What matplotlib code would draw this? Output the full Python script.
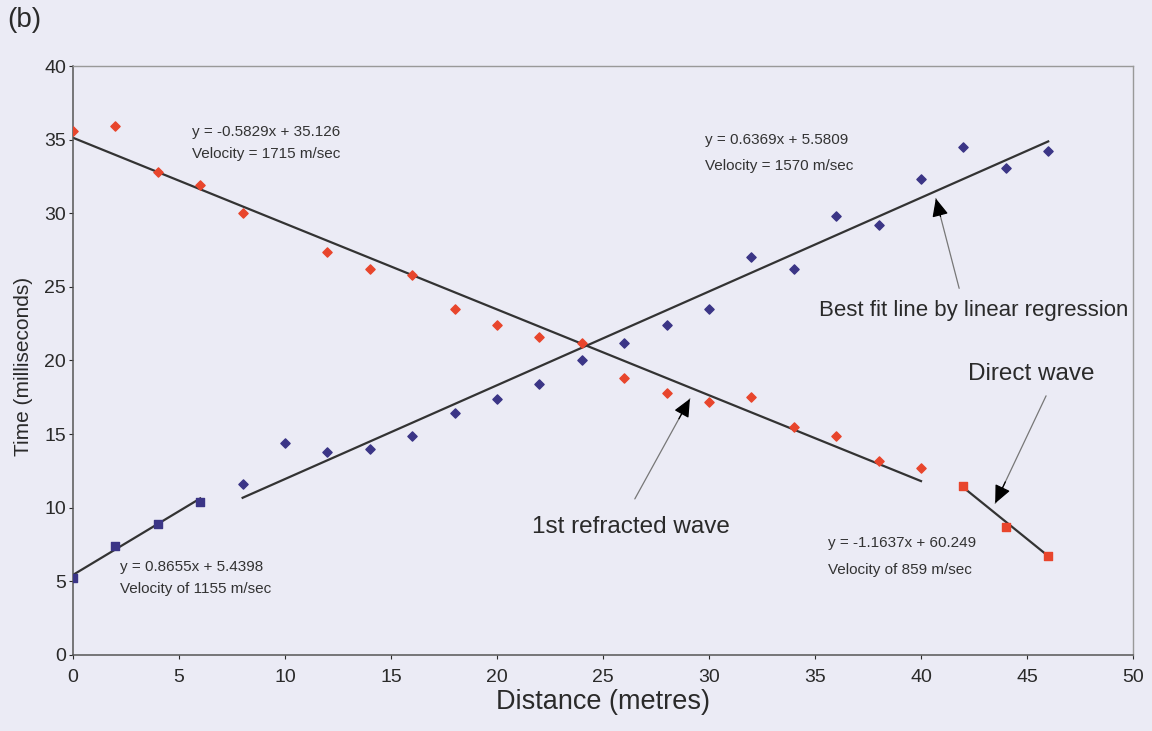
import matplotlib
matplotlib.use("Agg")
import matplotlib.pyplot as plt
import numpy as np

plt.rcParams["font.family"] = ["Liberation Sans", "DejaVu Sans"]

# forward shot: direct wave (squares) and refracted wave (diamonds)
fwd_direct_x = [0, 2, 4, 6]
fwd_direct_t = [5.2, 7.4, 8.9, 10.4]
fwd_refr_x = [8, 10, 12, 14, 16, 18, 20, 22, 24, 26, 28, 30, 32, 34, 36, 38, 40, 42, 44, 46]
fwd_refr_t = [11.6, 14.4, 13.8, 14.0, 14.9, 16.4, 17.4, 18.4, 20.0, 21.2,
              22.4, 23.5, 27.0, 26.2, 29.8, 29.2, 32.3, 34.5, 33.1, 34.2]

# reverse shot
rev_refr_x = [0, 2, 4, 6, 8, 12, 14, 16, 18, 20, 22, 24, 26, 28, 30, 32, 34, 36, 38, 40]
rev_refr_t = [35.6, 35.9, 32.8, 31.9, 30.0, 27.4, 26.2, 25.8, 23.5, 22.4,
              21.6, 21.2, 18.8, 17.8, 17.2, 17.5, 15.5, 14.9, 13.2, 12.7]
rev_direct_x = [42, 44, 46]
rev_direct_t = [11.5, 8.7, 6.7]

# regression fits (slope, intercept) as printed on the chart
fits = {
    "fwd_direct": (0.8655, 5.4398),
    "fwd_refr": (0.6369, 5.5809),
    "rev_refr": (-0.5829, 35.126),
    "rev_direct": (-1.1637, 60.249),
}

RED = "#e8452c"
BLUE = "#3b3586"
BG = "#ebebf5"
INK = "#2a2a2a"

fig = plt.figure(figsize=(11.52, 7.31), dpi=100, facecolor=BG)
ax = fig.add_axes([0.0634, 0.104, 0.9201, 0.8057], facecolor=BG)

ax.scatter(fwd_direct_x, fwd_direct_t, marker="s", s=36, color=BLUE, zorder=3)
ax.scatter(fwd_refr_x, fwd_refr_t, marker="D", s=22, color=BLUE, zorder=3)
ax.scatter(rev_refr_x, rev_refr_t, marker="D", s=22, color=RED, zorder=3)
ax.scatter(rev_direct_x, rev_direct_t, marker="s", s=36, color=RED, zorder=3)


def trend(xs, key):
    m, c = fits[key]
    xx = np.array([min(xs), max(xs)])
    ax.plot(xx, m * xx + c, color="#333333", lw=1.6, zorder=2)


trend(fwd_direct_x, "fwd_direct")
trend(fwd_refr_x, "fwd_refr")
trend(rev_refr_x, "rev_refr")
trend(rev_direct_x, "rev_direct")

eq_kw = dict(fontsize=11, color="#333333", va="center", ha="left")
ax.text(5.6, 35.5, "y = -0.5829x + 35.126", **eq_kw)
ax.text(5.6, 34.0, "Velocity = 1715 m/sec", **eq_kw)
ax.text(29.8, 35.0, "y = 0.6369x + 5.5809", **eq_kw)
ax.text(29.8, 33.2, "Velocity = 1570 m/sec", **eq_kw)
ax.text(2.2, 6.0, "y = 0.8655x + 5.4398", **eq_kw)
ax.text(2.2, 4.5, "Velocity of 1155 m/sec", **eq_kw)
ax.text(35.6, 7.6, "y = -1.1637x + 60.249", **eq_kw)
ax.text(35.6, 5.8, "Velocity of 859 m/sec", **eq_kw)


def pointer(head, tail):
    # thin grey shaft with a black triangular head
    ax.annotate("", xy=head, xytext=tail,
                arrowprops=dict(arrowstyle="-", color="#777777", lw=0.9,
                                shrinkA=0, shrinkB=0))
    hx, hy = head
    tx, ty = tail
    f = 0.2
    ax.annotate("", xy=head, xytext=(hx + (tx - hx) * f, hy + (ty - hy) * f),
                arrowprops=dict(arrowstyle="-|>,head_length=1.1,head_width=0.5",
                                color="black", lw=0.9, shrinkA=0, shrinkB=0))


lab_kw = dict(color=INK, ha="center", va="center")
pointer((40.7, 31.0), (41.8, 24.9))
ax.text(42.5, 23.4, "Best fit line by linear regression", fontsize=16, **lab_kw)
pointer((29.1, 17.4), (26.5, 10.6))
ax.text(26.3, 8.7, "1st refracted wave", fontsize=17.5, **lab_kw)
pointer((43.5, 10.3), (45.9, 17.6))
ax.text(45.2, 19.1, "Direct wave", fontsize=17.5, **lab_kw)

ax.set_xlim(0, 50)
ax.set_ylim(0, 40)
ax.set_xticks(range(0, 51, 5))
ax.set_yticks(range(0, 41, 5))
ax.tick_params(labelsize=14, colors=INK, length=3, width=0.8)
ax.tick_params(axis="x", pad=7)
ax.tick_params(axis="y", pad=2)
for s in ["left", "bottom"]:
    ax.spines[s].set_color("#555555")
    ax.spines[s].set_linewidth(1.1)
for s in ["top", "right"]:
    ax.spines[s].set_color("#999999")
    ax.spines[s].set_linewidth(1.0)

ax.set_xlabel("Distance (metres)", fontsize=19.5, color=INK, labelpad=2)
ax.set_ylabel("Time (milliseconds)", fontsize=15, color=INK)
ax.yaxis.set_label_coords(-0.038, 0.49)

fig.text(0.006, 0.973, "(b)", fontsize=20, color=INK, va="center", ha="left")

fig.savefig("out.png", dpi=100, facecolor=BG)
